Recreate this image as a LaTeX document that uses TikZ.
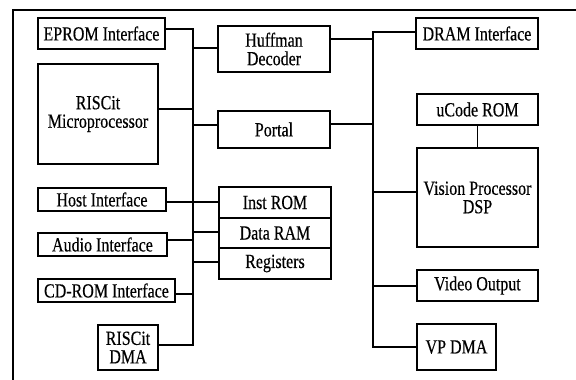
\documentclass[tikz,border=0pt]{standalone}
\usepackage{fontspec}
\setmainfont{Liberation Serif}[FakeStretch=0.8,FakeBold=0.4]
\begin{document}
\begin{tikzpicture}[x=1pt,y=-1pt,
  blk/.style={draw,line width=1.2pt,inner sep=0pt,align=center,
    font=\fontsize{20}{18.5}\selectfont},
  wire/.style={line width=1.1pt}]
\useasboundingbox (0,0) rectangle (576,380);
% frame
\draw[line width=1.4pt] (13,380) -- (13,10) -- (576,10);
% left column
\node[blk,minimum width=127,minimum height=31] (eprom) at (101.5,33.5) {EPROM Interface};
\node[blk,minimum width=120,minimum height=100] (micro) at (98,114) {RISCit\\Microprocessor};
\node[blk,minimum width=128,minimum height=23] (host) at (102,199.5) {Host Interface};
\node[blk,minimum width=129,minimum height=23] (audio) at (102.5,244.5) {Audio Interface};
\node[blk,minimum width=137,minimum height=23] (cdrom) at (106.5,290.5) {CD-ROM Interface};
\node[blk,minimum width=60,minimum height=45] (rdma) at (128,347.5) {RISCit\\DMA};
% middle column
\node[blk,minimum width=112,minimum height=46] (huff) at (274,49) {Huffman\\Decoder};
\node[blk,minimum width=112,minimum height=37] (portal) at (274,129.5) {Portal};
\node[blk,minimum width=112,minimum height=31] (inst) at (275,202.5) {Inst ROM};
\node[blk,minimum width=112,minimum height=30] (data) at (275,233) {Data RAM};
\node[blk,minimum width=112,minimum height=31] (regs) at (275,263.5) {Registers};
% right column
\node[blk,minimum width=122,minimum height=31] (dram) at (477,33.5) {DRAM Interface};
\node[blk,minimum width=121,minimum height=31] (ucode) at (477.5,109.5) {uCode ROM};
\node[blk,minimum width=121,minimum height=99] (vision) at (477.5,197.5) {Vision Processor\\DSP};
\node[blk,minimum width=121,minimum height=31] (video) at (477.5,285.5) {Video Output};
\node[blk,minimum width=79,minimum height=46] (vpdma) at (456.5,347) {VP DMA};
% left bus
\coordinate (lbtop) at (193,29);
\coordinate (lbbot) at (193,345);
\coordinate (lh) at (193,48);
\coordinate (lm) at (193,109);
\coordinate (lp) at (193,125);
\coordinate (li) at (193,202);
\coordinate (ld) at (193,232);
\coordinate (la) at (193,240);
\coordinate (lr) at (193,262);
\coordinate (lc) at (193,294);
\draw[wire] (lbtop -| eprom.east) -- (lbtop) -- (lbbot) -- (lbbot -| rdma.east);
\draw[wire] (lh) -- (lh -| huff.west);
\draw[wire] (lm) -- (lm -| micro.east);
\draw[wire] (lp) -- (lp -| portal.west);
\draw[wire] (li -| host.east) -- (li -| inst.west);
\draw[wire] (ld) -- (ld -| data.west);
\draw[wire] (la) -- (la -| audio.east);
\draw[wire] (lr) -- (lr -| regs.west);
\draw[wire] (lc) -- (lc -| cdrom.east);
% right bus
\coordinate (rtop) at (373,32);
\coordinate (rbot) at (373,347);
\coordinate (rh) at (373,39);
\coordinate (rp) at (373,124);
\coordinate (rv) at (373,192);
\coordinate (ro) at (373,286);
\draw[wire] (rtop -| dram.west) -- (rtop) -- (rbot) -- (rbot -| vpdma.west);
\draw[wire] (rh) -- (rh -| huff.east);
\draw[wire] (rp) -- (rp -| portal.east);
\draw[wire] (rv) -- (rv -| vision.west);
\draw[wire] (ro) -- (ro -| video.west);
\draw[wire] (ucode.south) -- (vision.north);
\end{tikzpicture}
\end{document}
